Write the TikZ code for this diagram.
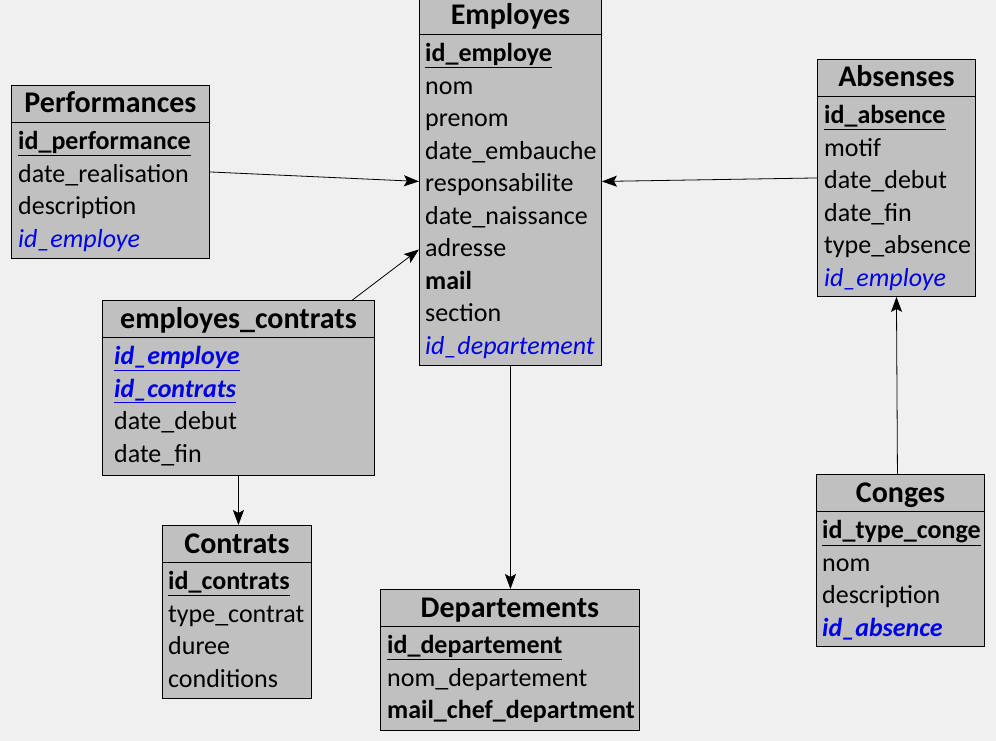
\documentclass[tikz,border=0pt]{standalone}
\usepackage{fontspec}
\setmainfont{Carlito}
\usetikzlibrary{arrows.meta,calc,positioning}
\usepackage{xcolor}
\definecolor{bgcol}{HTML}{F0F0F0}
\definecolor{tabcol}{HTML}{C0C0C0}
\definecolor{fkblue}{HTML}{0000E6}
\tikzset{
    tabsty/.style={draw,fill=tabcol,rectangle,line width=0.9pt,inner sep=0pt},
    titlesty/.style={inner sep=0pt,font=\fontsize{30}{32}\selectfont\bfseries},
    rowsty/.style={inner sep=0pt,align=left,font=\fontsize{26}{32.5}\selectfont},
    linksty/.style={->,line width=0.8pt},
}
\newcommand{\pk}[1]{\underline{\textbf{#1}}}
\newcommand{\fk}[1]{\textcolor{fkblue}{\textit{#1}}}
\newcommand{\bfk}[1]{\textcolor{fkblue}{\textbf{\textit{#1}}}}
\newcommand{\pfk}[1]{\textcolor{fkblue}{\underline{\textbf{\textit{#1}}}}}
% [text indent] name, x, y, width, height, title, rows
\newcommand{\ertable}[8][7]{%
  \node[tabsty,minimum width=#5pt,minimum height=#6pt,anchor=north west] (#2) at (#3,#4) {};
  \draw[line width=0.9pt] ([yshift=-37pt]#2.north west) -- ([yshift=-37pt]#2.north east);
  \node[titlesty,anchor=base] (#2-title) at ([yshift=-28pt]#2.north) {#7};
  \node[rowsty,anchor=north west] (#2-rows) at ([xshift=#1pt,yshift=-42pt]#2.north west) {\strut#8};
}

\begin{document}
\begin{tikzpicture}[x=1pt,y=-1pt,>={Stealth[length=15pt,width=11pt,inset=3pt]}]
\fill[bgcol] (0,0) rectangle (996,741);
\useasboundingbox (0,0) rectangle (996,741);

\ertable[6]{emp}{419}{-3}{182}{368}{Employes}{%
\pk{id\_employe}\\ nom\\ prenom\\ date\_embauche\\ responsabilite\\ date\_naissance\\ adresse\\ \textbf{mail}\\ section\\ \fk{id\_departement}}

\ertable{perf}{11}{85}{198}{173}{Performances}{%
\pk{id\_performance}\\ date\_realisation\\ description\\ \fk{id\_employe}}

\ertable{abs}{817}{59}{158}{237}{Absenses}{%
\pk{id\_absence}\\ motif\\ date\_debut\\ date\_fin\\ type\_absence\\ \fk{id\_employe}}

\ertable[12]{ec}{102}{300}{272}{175}{employes\_contrats}{%
\pfk{id\_employe}\\ \pfk{id\_contrats}\\ date\_debut\\ date\_fin}

\ertable[6]{con}{162}{525}{149}{173}{Contrats}{%
\pk{id\_contrats}\\ type\_contrat\\ duree\\ conditions}

\ertable{dep}{380}{589}{259}{141}{Departements}{%
\pk{id\_departement}\\ nom\_departement\\ \textbf{mail\_chef\_department}}

\ertable[6]{cg}{816}{474}{168}{172}{Conges}{%
\pk{id\_type\_conge}\\ nom\\ description\\ \bfk{id\_absence}}

% links
\draw[linksty] (perf.east) -- (emp.west);
\draw[linksty] ([xshift=114pt]ec.north) -- ([yshift=-68pt]emp.west);
\draw[linksty] (abs.west) -- (emp.east);
\draw[linksty] (emp.south) -- (emp.south |- dep.north);
\draw[linksty] (ec.south) -- (ec.south |- con.north);
\draw[linksty] ([xshift=-3pt]cg.north) -- (abs.south);
\end{tikzpicture}
\end{document}
